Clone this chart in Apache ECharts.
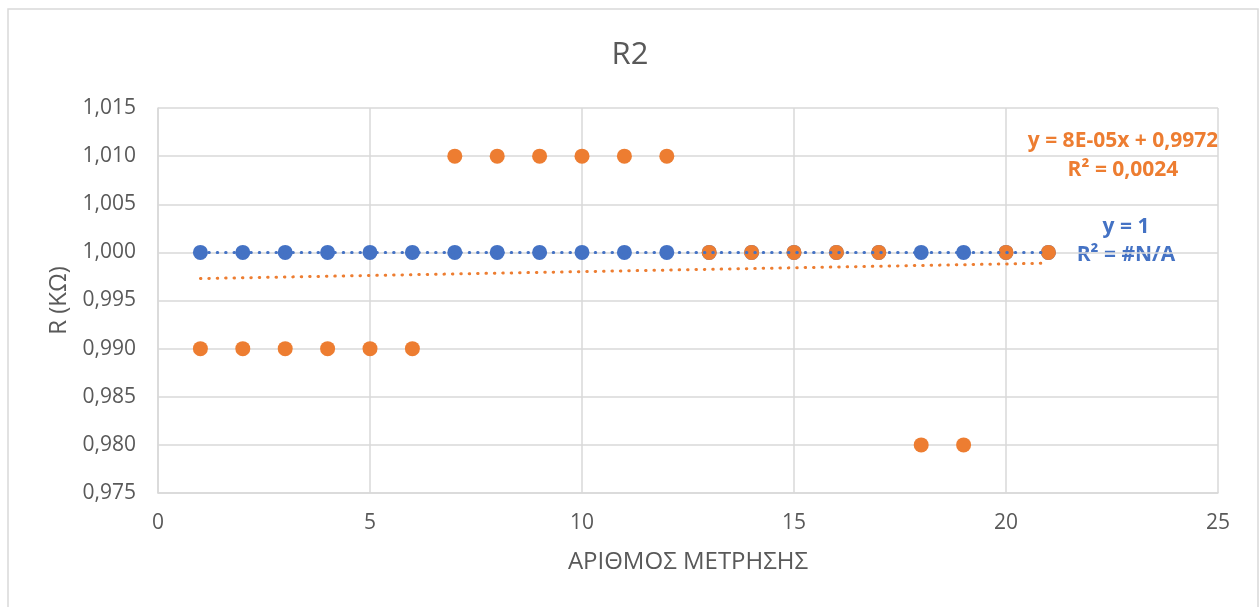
<!DOCTYPE html>
<html>
<head>
<meta charset="utf-8">
<script src="https://cdn.jsdelivr.net/npm/echarts@6/dist/echarts.min.js"></script>
<style>
  html, body { margin: 0; padding: 0; background: #fff; }
  #chart { width: 1260px; height: 607px; }
</style>
</head>
<body>
<div id="chart"></div>
<script>
// Measurement numbers (x) and resistance readings in kΩ
const measurementNo = [1, 2, 3, 4, 5, 6, 7, 8, 9, 10, 11, 12, 13, 14, 15, 16, 17, 18, 19, 20, 21];
const nominalR = [1.000, 1.000, 1.000, 1.000, 1.000, 1.000, 1.000, 1.000, 1.000, 1.000, 1.000,
                  1.000, 1.000, 1.000, 1.000, 1.000, 1.000, 1.000, 1.000, 1.000, 1.000];
const measuredR = [0.990, 0.990, 0.990, 0.990, 0.990, 0.990, 1.010, 1.010, 1.010, 1.010, 1.010,
                   1.010, 1.000, 1.000, 1.000, 1.000, 1.000, 0.980, 0.980, 1.000, 1.000];

// Linear trendline coefficients as shown in the equation labels
const measuredTrend = { slope: 8e-5, intercept: 0.9972, r2: '0,0024' };
const nominalTrend = { slope: 0, intercept: 1, r2: '#N/A' };

const yTicks = { min: 0.975, max: 1.015, step: 0.005 };
const xTicks = { min: 0, max: 25, step: 5 };

const BLUE = '#4472C4';
const ORANGE = '#ED7D31';
const TEXT = '#595959';
const GRID = '#d9d9d9';
const FONT = '"Open Sans", "Noto Sans", sans-serif';

const pairs = (xs, ys) => xs.map((x, i) => [x, ys[i]]);
const xFirst = measurementNo[0];
const xLast = measurementNo[measurementNo.length - 1];
const trendLine = t => [[xFirst, t.intercept + t.slope * xFirst], [xLast, t.intercept + t.slope * xLast]];

const dotted = color => ({ color: color, width: 3, type: [0.5, 7.9], cap: 'round' });

const chart = echarts.init(document.getElementById('chart'), null, { renderer: 'canvas' });

chart.setOption({
  animation: false,
  backgroundColor: '#fff',
  title: {
    text: 'R2',
    left: 'center',
    top: 35,
    textStyle: { color: TEXT, fontSize: 31, fontWeight: 'normal', fontFamily: FONT }
  },
  grid: { left: 158, right: 42, top: 108, bottom: 114 },
  xAxis: {
    type: 'value',
    min: xTicks.min, max: xTicks.max, interval: xTicks.step,
    name: 'ΑΡΙΘΜΟΣ ΜΕΤΡΗΣΗΣ',
    nameLocation: 'middle',
    nameGap: 57,
    nameTextStyle: { color: TEXT, fontSize: 24, fontFamily: FONT },
    axisLine: { show: true, lineStyle: { color: GRID, width: 1.5 } },
    axisTick: { show: false },
    axisLabel: { color: TEXT, fontSize: 21, fontFamily: FONT, margin: 20 },
    splitLine: { show: true, lineStyle: { color: GRID, width: 1.5 } }
  },
  yAxis: {
    type: 'value',
    min: yTicks.min, max: yTicks.max, interval: yTicks.step,
    name: 'R (KΩ)',
    nameLocation: 'middle',
    nameGap: 86,
    nameRotate: 90,
    nameTextStyle: { color: TEXT, fontSize: 24, fontFamily: FONT },
    axisLine: { show: true, lineStyle: { color: GRID, width: 1.5 } },
    axisTick: { show: false },
    axisLabel: {
      color: TEXT, fontSize: 21, fontFamily: FONT, margin: 22,
      formatter: v => v.toFixed(3).replace('.', ',')
    },
    splitLine: { show: true, lineStyle: { color: GRID, width: 1.5 } }
  },
  series: [
    {
      name: 'nominal',
      type: 'scatter',
      data: pairs(measurementNo, nominalR),
      symbolSize: 15,
      itemStyle: { color: BLUE, opacity: 1 },
      z: 2
    },
    {
      name: 'measured',
      type: 'scatter',
      data: pairs(measurementNo, measuredR),
      symbolSize: 15,
      itemStyle: { color: ORANGE, opacity: 1 },
      z: 3
    },
    {
      name: 'nominal trend',
      type: 'line',
      data: trendLine(nominalTrend),
      showSymbol: false,
      symbol: 'none',
      lineStyle: dotted(BLUE),
      z: 4
    },
    {
      name: 'measured trend',
      type: 'line',
      data: trendLine(measuredTrend),
      showSymbol: false,
      symbol: 'none',
      lineStyle: dotted(ORANGE),
      z: 4
    }
  ],
  graphic: [
    {
      type: 'rect',
      shape: { x: 8, y: 9, width: 1250, height: 620 },
      style: { fill: 'none', stroke: GRID, lineWidth: 1.5 },
      silent: true, z: -1
    },
    {
      type: 'text', x: 1123, y: 141,
      style: { text: 'y = 8E-05x + 0,9972', fill: ORANGE, font: 'bold 21px ' + FONT, textAlign: 'center', textVerticalAlign: 'middle' }
    },
    {
      type: 'text', x: 1123, y: 170,
      style: { text: 'R² = ' + measuredTrend.r2, fill: ORANGE, font: 'bold 21px ' + FONT, textAlign: 'center', textVerticalAlign: 'middle' }
    },
    {
      type: 'text', x: 1126, y: 227,
      style: { text: 'y = 1', fill: BLUE, font: 'bold 21px ' + FONT, textAlign: 'center', textVerticalAlign: 'middle' }
    },
    {
      type: 'text', x: 1126, y: 255,
      style: { text: 'R² = ' + nominalTrend.r2, fill: BLUE, font: 'bold 21px ' + FONT, textAlign: 'center', textVerticalAlign: 'middle' }
    }
  ]
});
</script>
</body>
</html>
